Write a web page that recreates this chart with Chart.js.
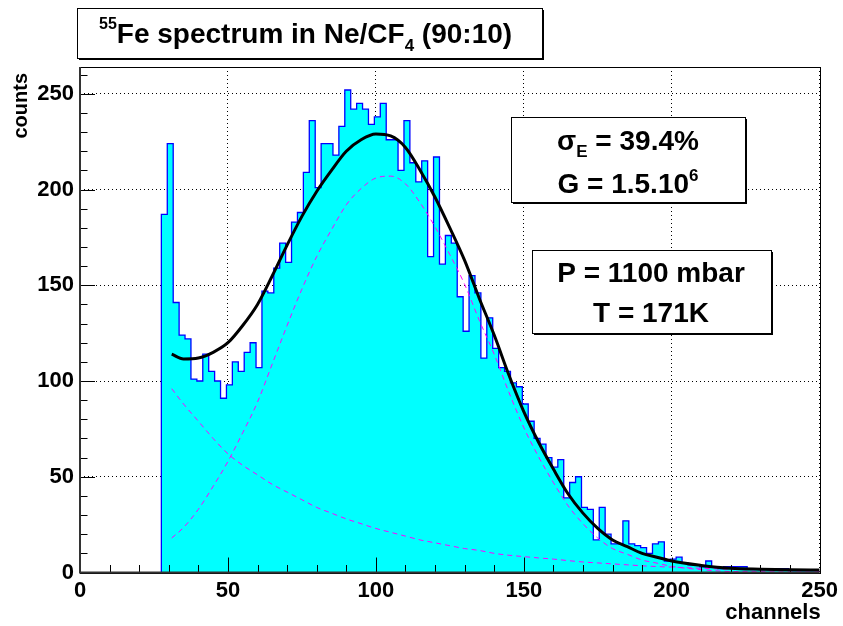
<!DOCTYPE html>
<html>
<head>
<meta charset="utf-8">
<script src="https://cdn.jsdelivr.net/npm/chart.js@4.4.0/dist/chart.umd.min.js"></script>
<style>
  html, body { margin: 0; padding: 0; background: #fff; }
  #wrap { width: 843px; height: 626px; }
</style>
</head>
<body>
<div id="wrap"><canvas id="spectrum" width="843" height="626"></canvas></div>
<script>
// Histogram: 2-channel bins starting at channel 27.5
const binLow = 27.5;
const binWidth = 2;
const counts = [
  187, 224, 141, 124, 122, 101, 100, 114, 105, 100,
  91, 98, 110, 105, 115, 120, 107, 147, 146, 159,
  172, 162, 183, 188, 209, 236, 201, 224, 224, 218,
  233, 252, 242, 245, 242, 234, 238, 245, 226, 226,
  210, 236, 214, 204, 215, 165, 217, 161, 176, 172,
  144, 126, 155, 146, 112, 133, 117, 107, 105, 99,
  97, 88, 79, 70, 67, 60, 55, 59, 39, 47,
  50, 34, 33, 17, 34, 20, 15, 15, 27, 15,
  14, 13, 10, 15, 16, 6, 7, 8, 5, 4,
  4, 3, 6, 3, 2, 3, 3, 3, 3, 2,
  2, 2, 2, 2, 2, 2, 1, 1, 1, 1, 1
];

// Fit curves
const fitChannels = [31, 35, 40, 45, 50, 55, 60, 65, 70, 75, 80, 85, 90, 95, 100, 105, 110, 115, 120, 125,
  130, 135, 140, 145, 150, 155, 160, 165, 170, 175, 180, 185, 190, 195, 200, 210, 220, 230, 240, 250];
const fitTotal = [114, 111.5, 112, 115, 120, 129, 140, 155, 171, 186, 199, 210, 220, 226, 229, 228, 222, 210, 196, 180,
  163, 143, 124, 103, 84, 68, 54, 41, 31, 23, 17, 13.5, 10, 8, 6, 3.7, 2.2, 1.7, 1.4, 1.3];
const fitGauss = [18, 23.5, 33, 45, 58, 73, 89, 109, 129, 148, 165, 179, 192, 200.5, 206, 207, 203, 193, 180.5, 166,
  150.5, 131.5, 114, 94, 75.7, 60.4, 47, 34.8, 25.5, 18, 12.5, 9.5, 6.5, 4.9, 3.2, 1.5, 0.5, 0.4, 0.3, 0.3];
const fitBackground = [96, 88, 79, 70, 62, 56, 51, 46, 42, 38, 34, 31, 28, 25.5, 23, 21, 19, 17, 15.5, 14,
  12.5, 11.5, 10, 9, 8.3, 7.6, 7, 6.2, 5.5, 5, 4.5, 4, 3.5, 3.1, 2.8, 2.2, 1.7, 1.3, 1.1, 0.9];

const xMin = 0, xMax = 250;
const yMin = 0, yMax = 264;

const titleText = { iso: "55", pre: "Fe spectrum in Ne/CF", sub: "4", post: " (90:10)" };
const xTitle = "channels";
const yTitle = "counts";

// build step points (left edge of each bin, closing at right edge)
const histPoints = [{ x: binLow, y: 0 }];
counts.forEach((c, i) => histPoints.push({ x: binLow + i * binWidth, y: c }));
histPoints.push({ x: binLow + counts.length * binWidth, y: counts[counts.length - 1] });
histPoints.push({ x: binLow + counts.length * binWidth, y: 0 });

const toPoints = (ys) => fitChannels.map((x, i) => ({ x: x, y: ys[i] }));

const FONT = "'Liberation Sans', Arial, Helvetica, sans-serif";

// white page + ROOT style frame, ticks, boxes and texts
const rootStyle = {
  id: "rootStyle",
  beforeDraw(chart) {
    const ctx = chart.ctx;
    ctx.save();
    ctx.fillStyle = "#fff";
    ctx.fillRect(0, 0, chart.width, chart.height);
    ctx.restore();
  },
  afterDraw(chart) {
    const { ctx, chartArea: a, scales: { x, y } } = chart;
    ctx.save();
    ctx.strokeStyle = "#000";
    ctx.lineWidth = 1;

    // ticks pointing inward
    ctx.beginPath();
    for (let v = xMin; v <= xMax; v += 10) {
      const px = Math.round(x.getPixelForValue(v)) + 0.5;
      const len = v % 50 === 0 ? 15 : 7.5;
      ctx.moveTo(px, a.bottom);
      ctx.lineTo(px, a.bottom - len);
    }
    for (let v = yMin; v <= yMax; v += 10) {
      const py = Math.round(y.getPixelForValue(v)) + 0.5;
      const len = v % 50 === 0 ? 15 : 7.5;
      ctx.moveTo(a.left, py);
      ctx.lineTo(a.left + len, py);
    }
    ctx.stroke();

    // frame
    ctx.strokeRect(Math.round(a.left) + 0.5, Math.round(a.top) + 0.5, Math.round(a.width), Math.round(a.height));
    ctx.lineWidth = 2;
    ctx.strokeStyle = "#333";
    ctx.beginPath();
    ctx.moveTo(a.left, a.top);
    ctx.lineTo(a.left, a.bottom);
    ctx.lineTo(a.right, a.bottom);
    ctx.stroke();

    // axis titles
    ctx.fillStyle = "#000";
    ctx.textAlign = "right";
    ctx.textBaseline = "alphabetic";
    ctx.font = "bold 22px " + FONT;
    ctx.fillText(xTitle, a.right + 1, 619);
    ctx.save();
    ctx.font = "bold 20px " + FONT;
    ctx.translate(27, a.top + 6);
    ctx.rotate(-Math.PI / 2);
    ctx.fillText(yTitle, 0, 0);
    ctx.restore();

    // boxes
    const box = (x0, y0, w, h) => {
      ctx.fillStyle = "#fff";
      ctx.fillRect(x0, y0, w, h);
      ctx.strokeStyle = "#000";
      ctx.lineWidth = 1;
      ctx.strokeRect(x0 + 0.5, y0 + 0.5, w, h);
      ctx.fillStyle = "#000";
      ctx.fillRect(x0 + 2, y0 + h, w, 2);
      ctx.fillRect(x0 + w, y0 + 2, 2, h);
    };

    // title box
    box(77, 8, 465, 50);
    ctx.fillStyle = "#000";
    ctx.textAlign = "left";
    let tx = 99;
    const ty = 43;
    ctx.font = "bold 16px " + FONT;
    ctx.fillText(titleText.iso, tx, ty - 14);
    tx += ctx.measureText(titleText.iso).width;
    ctx.font = "bold 28px " + FONT;
    ctx.fillText(titleText.pre, tx, ty);
    tx += ctx.measureText(titleText.pre).width;
    ctx.font = "bold 17px " + FONT;
    ctx.fillText(titleText.sub, tx, ty + 8);
    tx += ctx.measureText(titleText.sub).width;
    ctx.font = "bold 28px " + FONT;
    ctx.fillText(titleText.post, tx, ty);

    // resolution / gain box
    box(511, 117, 234, 85);
    ctx.textAlign = "left";
    const big = "bold 28px " + FONT;
    const small = "bold 17px " + FONT;
    // sigma_E line
    let parts = [["σ", big, 0], ["E", small, 7], [" = 39.4%", big, 0]];
    let w = parts.reduce((s, p) => { ctx.font = p[1]; return s + ctx.measureText(p[0]).width; }, 0);
    tx = 628 - w / 2;
    parts.forEach(p => { ctx.font = p[1]; ctx.fillText(p[0], tx, 150 + p[2]); tx += ctx.measureText(p[0]).width; });
    // gain line
    parts = [["G = 1.5.10", big, 0], ["6", small, -12]];
    w = parts.reduce((s, p) => { ctx.font = p[1]; return s + ctx.measureText(p[0]).width; }, 0);
    tx = 628 - w / 2;
    parts.forEach(p => { ctx.font = p[1]; ctx.fillText(p[0], tx, 193 + p[2]); tx += ctx.measureText(p[0]).width; });

    // pressure / temperature box
    box(532, 250, 239, 83);
    ctx.font = big;
    ctx.textAlign = "center";
    ctx.fillText("P = 1100 mbar", 651, 282);
    ctx.fillText("T = 171K", 651, 322);

    ctx.restore();
  }
};

const onlyFifties = (s) => { s.ticks = s.ticks.filter(t => t.value % 50 === 0); };

new Chart(document.getElementById("spectrum"), {
  type: "line",
  data: {
    datasets: [
      {
        label: "fit",
        data: toPoints(fitTotal),
        borderColor: "#000",
        borderWidth: 3,
        pointRadius: 0,
        fill: false,
        cubicInterpolationMode: "monotone"
      },
      {
        label: "gauss",
        data: toPoints(fitGauss),
        borderColor: "#ff00ff",
        borderWidth: 1,
        borderDash: [5, 4],
        pointRadius: 0,
        fill: false,
        cubicInterpolationMode: "monotone"
      },
      {
        label: "background",
        data: toPoints(fitBackground),
        borderColor: "#ff00ff",
        borderWidth: 1,
        borderDash: [5, 4],
        pointRadius: 0,
        fill: false,
        cubicInterpolationMode: "monotone"
      },
      {
        label: "spectrum",
        data: histPoints,
        stepped: "before",
        borderColor: "#0000ff",
        borderWidth: 1.3,
        backgroundColor: "#00ffff",
        fill: "origin",
        pointRadius: 0
      }
    ]
  },
  options: {
    responsive: false,
    animation: false,
    events: [],
    layout: { padding: { left: 0, right: 18, top: 67, bottom: 0 } },
    plugins: {
      legend: { display: false },
      tooltip: { enabled: false }
    },
    scales: {
      x: {
        type: "linear",
        min: xMin,
        max: xMax,
        afterFit: (s) => { s.height = 53.5; },
        afterBuildTicks: onlyFifties,
        grid: { color: "#000", lineWidth: 1, drawTicks: false },
        border: { display: false, dash: [1, 3] },
        ticks: {
          stepSize: 50,
          padding: 5,
          color: "#000",
          font: { family: FONT, size: 22, weight: "bold" }
        }
      },
      y: {
        min: yMin,
        max: yMax,
        afterFit: (s) => { s.width = 80; },
        afterBuildTicks: onlyFifties,
        grid: { color: "#000", lineWidth: 1, drawTicks: false },
        border: { display: false, dash: [1, 3] },
        ticks: {
          stepSize: 50,
          padding: 6,
          color: "#000",
          font: { family: FONT, size: 22, weight: "bold" }
        }
      }
    }
  },
  plugins: [rootStyle]
});
</script>
</body>
</html>
